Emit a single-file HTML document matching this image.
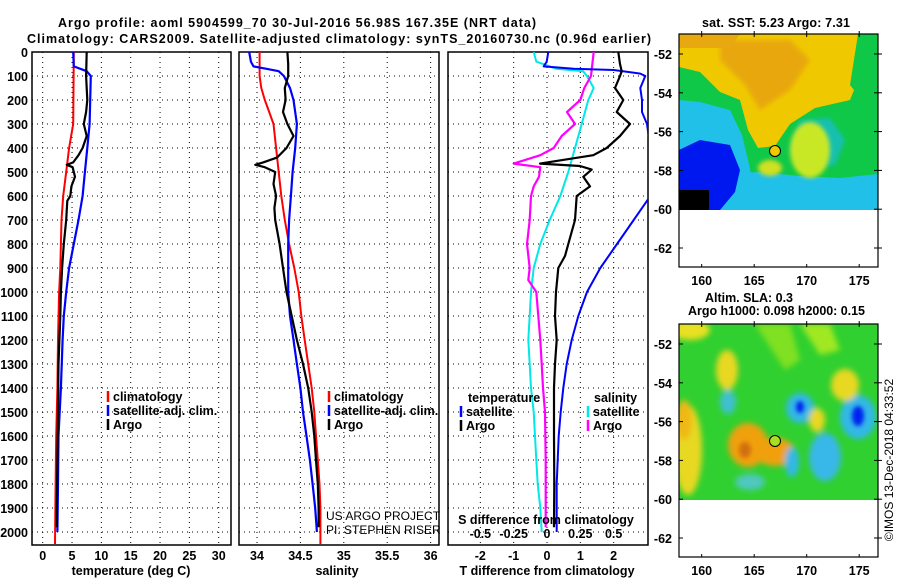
<!DOCTYPE html>
<html><head><meta charset="utf-8"><style>
html,body{margin:0;padding:0;background:#fff;}
svg{display:block;font-family:"Liberation Sans",Arial,sans-serif;}
.b{font-weight:bold;font-size:12.5px;fill:#000;}
</style></head><body>
<svg id="c" width="900" height="580" viewBox="0 0 900 580" xmlns="http://www.w3.org/2000/svg">
<defs>
<clipPath id="cp1"><rect x="32" y="52" width="199" height="493"/></clipPath>
<clipPath id="cp2"><rect x="239" y="52" width="200" height="493"/></clipPath>
<clipPath id="cp3"><rect x="448" y="52" width="200" height="493"/></clipPath>
<clipPath id="cm1"><rect x="679" y="34" width="199" height="176"/></clipPath>
<clipPath id="cm2"><rect x="679" y="324" width="199" height="176"/></clipPath>
<filter id="bl" x="-50%" y="-50%" width="200%" height="200%"><feGaussianBlur stdDeviation="3"/></filter>
<filter id="bl2" x="-50%" y="-50%" width="200%" height="200%"><feGaussianBlur stdDeviation="2"/></filter>
</defs>
<text class="b" x="58" y="27" font-size="14" textLength="478">Argo profile: aoml 5904599_70 30-Jul-2016 56.98S 167.35E (NRT data)</text>
<text class="b" x="27" y="43" font-size="14" textLength="624">Climatology: CARS2009. Satellite-adjusted climatology: synTS_20160730.nc (0.96d earlier)</text>

<!-- Map 1 -->
<g>
<text class="b" x="702" y="27" textLength="148">sat. SST: 5.23 Argo: 7.31</text>
<g clip-path="url(#cm1)">
<rect x="679" y="34" width="199" height="176" fill="#10c848"/>
<polygon points="679,100 700,102 730,110 742,135 748,160 752,178 679,178" fill="#20c0e8"/>
<polygon points="679,175 760,172 800,176 840,178 878,174 878,210 679,210" fill="#20c0e8"/>
<polygon points="800,120 830,118 845,140 835,165 805,168 790,150" fill="#18c0b0" filter="url(#bl2)"/>
<polygon points="679,150 700,140 730,145 740,170 735,192 720,210 679,210" fill="#0018f0"/>
<rect x="679" y="190" width="30" height="20" fill="#000"/>
<polygon points="679,34 878,34 870,50 860,75 850,100 815,108 790,124 775,146 758,148 748,130 740,100 720,92 700,72 679,67" fill="#f0c800"/>
<polygon points="720,40 790,40 810,60 790,90 760,110 745,85 720,60" fill="#e8a810" filter="url(#bl2)"/>
<polygon points="679,34 740,34 730,48 679,48" fill="#e8a810"/>
<polygon points="858,34 878,34 878,100 858,95 850,85" fill="#10c848"/>
<ellipse cx="810" cy="150" rx="20" ry="28" fill="#c8e828" filter="url(#bl2)"/>
<ellipse cx="770" cy="168" rx="12" ry="8" fill="#d0e020" filter="url(#bl2)"/>
</g>
<rect x="679" y="210" width="199" height="57" fill="#fff"/>
<rect x="679" y="34" width="199" height="233" fill="none" stroke="#000" stroke-width="1.2"/>
<circle cx="775" cy="151" r="5.5" fill="#f0c800" stroke="#000" stroke-width="1"/>
<g id="m1ax"></g>
</g>

<!-- Map 2 -->
<g>
<text class="b" x="705" y="302" textLength="88">Altim. SLA: 0.3</text>
<text class="b" x="688" y="315" textLength="177">Argo h1000: 0.098 h2000: 0.15</text>
<g clip-path="url(#cm2)">
<rect x="679" y="324" width="199" height="176" fill="#30d030"/>
<g filter="url(#bl)">
<ellipse cx="690" cy="330" rx="20" ry="10" fill="#e8e020"/>
<polygon points="755,324 790,324 800,360 785,370" fill="#80e020"/>
<polygon points="800,324 830,324 840,350 820,355" fill="#a0e820"/>
<ellipse cx="727" cy="370" rx="11" ry="20" fill="#e8d820"/>
<ellipse cx="688" cy="450" rx="14" ry="45" fill="#e8d820"/>
<ellipse cx="684" cy="420" rx="8" ry="20" fill="#f0b818"/>
<ellipse cx="748" cy="445" rx="20" ry="22" fill="#f0a010"/>
<ellipse cx="775" cy="452" rx="20" ry="14" fill="#f0a010"/>
<ellipse cx="728" cy="402" rx="8" ry="12" fill="#40c0d0"/>
<ellipse cx="800" cy="408" rx="14" ry="15" fill="#30b8e8"/>
<ellipse cx="858" cy="417" rx="18" ry="22" fill="#30b8e8"/>
<ellipse cx="825" cy="457" rx="16" ry="24" fill="#38b8e8"/>
<ellipse cx="792" cy="462" rx="7" ry="15" fill="#30b8e8"/>
<ellipse cx="845" cy="385" rx="14" ry="16" fill="#e8d820"/>
<ellipse cx="817" cy="420" rx="8" ry="12" fill="#e8d820"/>
<ellipse cx="750" cy="482" rx="15" ry="8" fill="#50c8c0"/>
</g>
<ellipse cx="858" cy="416" rx="6" ry="10" fill="#0020f0" filter="url(#bl2)"/>
<ellipse cx="800" cy="407" rx="4" ry="6" fill="#0020f0" filter="url(#bl2)"/>
<ellipse cx="745" cy="450" rx="6" ry="8" fill="#d07010" filter="url(#bl2)"/>
</g>
<rect x="679" y="500" width="199" height="57" fill="#fff"/>
<rect x="679" y="324" width="199" height="233" fill="none" stroke="#000" stroke-width="1.2"/>
<circle cx="775" cy="441" r="5.5" fill="#a8e020" stroke="#000" stroke-width="1"/>
<g id="m2ax"></g>
</g>
<text x="893" y="460" font-size="12" text-anchor="middle" transform="rotate(-90 893 460)">©IMOS 13-Dec-2018 04:33:52</text>

<g id="p1"></g>
<g id="p2"></g>
<g id="p3"></g>
</svg>
<script>
// ---- data ----
const tClimDepth=[0,300,400,500,600,700,800,900,1000,1200,1400,1600,1800,2050];
const tClim=[5.3,5.2,4.5,4.0,3.5,3.2,3.1,3.0,2.8,2.6,2.5,2.3,2.2,2.1];
const tSatDepth=[0,60,80,100,200,300,400,500,600,700,800,900,1000,1100,1200,1400,1600,1800,2000];
const tSat=[5.2,5.3,7.5,8.2,8.1,8.0,7.6,7.2,6.8,6.1,5.3,4.5,4.0,3.6,3.4,3.1,2.7,2.6,2.5];
const tArgoDepth=[0,100,200,250,300,350,400,430,460,470,480,520,560,600,620,700,800,900,1000,1100,1300,1500,1700,1900,1980];
const tArgo=[7.5,7.4,7.6,7.4,7.0,7.5,6.8,6.1,5.2,4.1,5.1,5.5,4.9,4.7,4.2,4.0,3.6,3.3,3.1,3.0,2.7,2.6,2.5,2.4,2.4];
const sClimDepth=[0,100,150,200,250,300,400,500,600,700,800,900,1000,1100,1200,1300,1400,1500,1600,1700,1800,1900,2050];
const sClim=[34.03,34.03,34.05,34.09,34.14,34.19,34.22,34.25,34.28,34.32,34.37,34.43,34.48,34.51,34.55,34.59,34.63,34.66,34.68,34.70,34.72,34.73,34.73];
const sSatDepth=[0,40,60,70,80,100,150,200,300,400,500,600,700,800,900,1000,1100,1200,1300,1400,1500,1600,1700,1800,1900,2000];
const sSat=[33.91,33.93,33.96,34.11,34.25,34.31,34.38,34.42,34.46,34.44,34.41,34.39,34.37,34.36,34.36,34.36,34.38,34.42,34.46,34.50,34.53,34.57,34.61,34.64,34.67,34.69];
const sArgoDepth=[0,50,100,150,200,250,300,350,400,440,460,470,480,500,550,600,650,700,800,900,1000,1100,1200,1300,1400,1500,1600,1700,1800,1900,1980];
const sArgo=[34.35,34.36,34.36,34.32,34.33,34.30,34.35,34.42,34.34,34.23,34.07,33.98,34.09,34.21,34.19,34.22,34.20,34.21,34.26,34.30,34.34,34.40,34.46,34.53,34.59,34.63,34.66,34.68,34.70,34.71,34.71];
const dtSatDepth=[0,40,60,70,75,90,100,150,200,250,300,400,500,600,700,800,900,1000,1100,1200,1300,1400,1500,1600,1700,1800,2000];
const dtSat=[0.04,-0.01,-0.1,0.8,2.0,2.8,2.95,2.8,2.85,2.85,3.0,3.1,3.2,3.1,2.6,2.1,1.6,1.2,0.94,0.74,0.59,0.49,0.41,0.35,0.32,0.29,0.29];
const dtArgoDepth=[0,50,80,100,150,200,250,300,350,400,430,465,475,490,520,560,600,700,800,850,900,1000,1100,1200,1300,1400,1600,1800,1980];
const dtArgo=[2.14,2.19,2.24,2.19,2.04,2.29,2.09,2.49,2.19,1.79,1.39,-0.21,0.99,1.34,1.09,1.29,0.89,0.84,0.64,0.54,0.34,0.27,0.24,0.29,0.24,0.21,0.21,0.22,0.21];
const dsSatDepth=[0,40,70,80,100,150,200,300,400,500,600,700,800,900,1000,1100,1200,1300,1400,1500,1600,1700,1800,1900,2000];
const dsSat=[-0.1,-0.08,0.07,0.27,0.3,0.35,0.31,0.26,0.21,0.16,0.10,0.02,-0.05,-0.1,-0.12,-0.13,-0.14,-0.13,-0.12,-0.1,-0.09,-0.08,-0.07,-0.05,-0.04];
const dsArgoDepth=[0,100,150,200,250,300,350,400,430,465,480,520,560,600,700,800,900,950,1000,1100,1200,1300,1400,1500,1700,1900,1980];
const dsArgo=[0.35,0.33,0.28,0.25,0.15,0.21,0.11,0.05,-0.05,-0.25,-0.05,-0.06,-0.1,-0.12,-0.13,-0.15,-0.13,-0.14,-0.08,-0.065,-0.05,-0.04,-0.03,-0.015,-0.01,-0.01,-0.01];
const depthTicks=[0,100,200,300,400,500,600,700,800,900,1000,1100,1200,1300,1400,1500,1600,1700,1800,1900,2000];
const tTicks=[0,5,10,15,20,25,30];
const sTicks=[34,34.5,35,35.5,36];
const sTickLabels=["34","34.5","35","35.5","36"];
const dtTicks=[-2,-1,0,1,2];
const dsTicks=[-0.5,-0.25,0,0.25,0.5];
const dsTickLabels=["-0.5","-0.25","0","0.25","0.5"];
const latTicks=[-52,-54,-56,-58,-60,-62];
const lonTicks=[160,165,170,175];

// ---- scales ----
const NS="http://www.w3.org/2000/svg";
const yD=d=>52+d*0.24;
const xT=t=>42.7+t*5.867;
const xS=s=>257+(s-34)*86.8;
const xDT=v=>547+v*33.33;
const xDS=v=>547+v*133.3;
const lonX=l=>701.7+(l-160)*10.5;
const lat1=l=>54+(-52-l)*19.4;
const lat2=l=>344+(-52-l)*19.4;

function mk(tag,attrs,parent){const e=document.createElementNS(NS,tag);for(const k in attrs)e.setAttribute(k,attrs[k]);parent.appendChild(e);return e;}
function txt(parent,x,y,s,anchor,extra){const e=mk('text',Object.assign({x:x,y:y,class:'b','text-anchor':anchor||'start'},extra||{}),parent);e.textContent=s;return e;}

function panel(g,x0,w,xTickVals,xf){
  for(const d of depthTicks){
    const l=mk('line',{x1:x0,x2:x0+w,y1:yD(d),y2:yD(d),stroke:'#000','stroke-width':1,'stroke-dasharray':'1,4'},g);
    
    
  }
  for(const v of xTickVals){
    const l=mk('line',{x1:xf(v),x2:xf(v),y1:52,y2:545,stroke:'#000','stroke-width':1,'stroke-dasharray':'1,4'},g);
    
    
  }
  const r=mk('rect',{x:x0,y:52,width:w,height:493,fill:'none',stroke:'#000','stroke-width':1.5},g);
  
  
}
function series(g,clip,ds,vs,xf,color,sw,name){
  const pts=ds.map((d,i)=>xf(vs[i]).toFixed(1)+','+yD(d).toFixed(1)).join(' ');
  const p=mk('polyline',{points:pts,fill:'none',stroke:color,'stroke-width':sw,'clip-path':'url(#'+clip+')','stroke-linejoin':'round'},g);
  
  
}
function legend(g,x,y,color,label,name){
  const l=mk('line',{x1:x,x2:x,y1:y-10,y2:y+1,stroke:color,'stroke-width':2.5},g);
  
  
  const t=txt(g,x+5,y,label);
  
  
}

// Panel 1
const p1=document.getElementById('p1');
panel(p1,32,199,tTicks,xT);
for(const d of depthTicks){const t=txt(p1,28,yD(d)+5,String(d),'end');}
for(const v of tTicks){const t=txt(p1,xT(v),560,String(v),'middle');}
{const t=txt(p1,131,575,'temperature (deg C)','middle');}
series(p1,'cp1',tClimDepth,tClim,xT,'#ff0000',2,'temp-climatology-line');
series(p1,'cp1',tSatDepth,tSat,xT,'#0000ff',2.2,'temp-satellite-line');
series(p1,'cp1',tArgoDepth,tArgo,xT,'#000',2.2,'temp-argo-line');
legend(p1,108,401,'#ff0000','climatology','legend-climatology');
legend(p1,108,415,'#0000ff','satellite-adj. clim.','legend-satellite');
legend(p1,108,429,'#000','Argo','legend-argo');

// Panel 2
const p2=document.getElementById('p2');
panel(p2,239,200,sTicks,xS);
sTicks.forEach((v,i)=>{const t=txt(p2,xS(v),560,sTickLabels[i],'middle');});
{const t=txt(p2,337,575,'salinity','middle');}
series(p2,'cp2',sClimDepth,sClim,xS,'#ff0000',2,'sal-climatology-line');
series(p2,'cp2',sSatDepth,sSat,xS,'#0000ff',2.2,'sal-satellite-line');
series(p2,'cp2',sArgoDepth,sArgo,xS,'#000',2.2,'sal-argo-line');
legend(p2,329,401,'#ff0000','climatology','legend-sal-climatology');
legend(p2,329,415,'#0000ff','satellite-adj. clim.','legend-sal-satellite');
legend(p2,329,429,'#000','Argo','legend-sal-argo');
{const t=mk('text',{x:326,y:520,'font-size':12},p2);t.textContent='US ARGO PROJECT';}
{const t=mk('text',{x:326,y:534,'font-size':12},p2);t.textContent='PI: STEPHEN RISER';}

// Panel 3
const p3=document.getElementById('p3');
panel(p3,448,200,dtTicks,xDT);
dtTicks.forEach(v=>{const t=txt(p3,xDT(v),560,String(v),'middle');});
{const t=txt(p3,547,575,'T difference from climatology','middle');}
series(p3,'cp3',dsSatDepth,dsSat,xDS,'#00e8e8',2,'sdiff-satellite-line');
series(p3,'cp3',dsArgoDepth,dsArgo,xDS,'#ff00ff',2.2,'sdiff-argo-line');
series(p3,'cp3',dtSatDepth,dtSat,xDT,'#0000ff',2,'tdiff-satellite-line');
series(p3,'cp3',dtArgoDepth,dtArgo,xDT,'#000',2.2,'tdiff-argo-line');
{const t=txt(p3,468,402,'temperature');}
{const t=txt(p3,594,402,'salinity');}
legend(p3,461,416,'#0000ff','satellite','legend-tdiff-satellite');
legend(p3,461,430,'#000','Argo','legend-tdiff-argo');
legend(p3,588,416,'#00e8e8','satellite','legend-sdiff-satellite');
legend(p3,588,430,'#ff00ff','Argo','legend-sdiff-argo');
{const t=txt(p3,546,524,'S difference from climatology','middle');}
dsTicks.forEach((v,i)=>{const t=txt(p3,xDS(v),538,dsTickLabels[i],'middle');});

// Map axes
function mapAxes(id,latf,yTop,yBot){
  const g=document.getElementById(id);
  for(const l of latTicks){
    const y=latf(l);
    mk('line',{x1:679,x2:683,y1:y,y2:y,stroke:'#000'},g);
    mk('line',{x1:874,x2:882,y1:y,y2:y,stroke:'#000'},g);
    const t=txt(g,672,y+5,String(l),'end');
    
    
  }
  for(const l of lonTicks){
    const x=lonX(l);
    mk('line',{x1:x,x2:x,y1:yTop-3,y2:yTop+3,stroke:'#000'},g);
    mk('line',{x1:x,x2:x,y1:yBot-3,y2:yBot,stroke:'#000'},g);
    const t=txt(g,x,yBot+18,String(l),'middle');
    
    
  }
}
mapAxes('m1ax',lat1,34,267);
mapAxes('m2ax',lat2,324,557);
</script>
</body></html>
